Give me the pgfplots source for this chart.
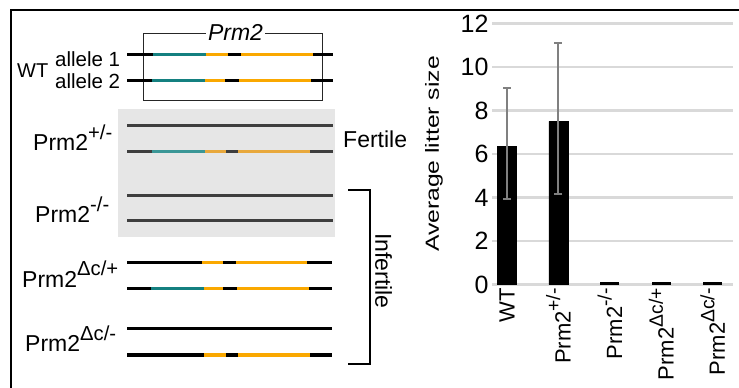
\documentclass[border=0pt]{standalone}
\usepackage{pgfplots}
\pgfplotsset{compat=1.18}
\usepackage{graphicx}
\usepackage{fontspec}
\setmainfont{Liberation Sans}
\definecolor{teal1}{RGB}{20,128,128}
\definecolor{orange1}{RGB}{250,168,0}
\definecolor{tealg}{RGB}{58,150,150}
\definecolor{orangeg}{RGB}{232,168,60}
\definecolor{darkg}{RGB}{62,62,62}
\definecolor{boxg}{RGB}{230,230,230}
\definecolor{gridg}{RGB}{217,217,217}
\definecolor{errg}{RGB}{128,128,128}
\newcommand\sups[1]{\raisebox{0.48em}{\scalebox{0.88}{#1}}}
\newcommand\fs[1]{\fontsize{#1}{#1}\selectfont}
\newcommand\seg[4]{\draw[line width=3.2pt,#1] (#2,#4) -- (#3,#4);}
\begin{document}
\begin{tikzpicture}
\begin{scope}[x=1pt,y=-1pt]
% frame
\draw[line width=2.4pt] (11,388) -- (11,10) -- (739,10);
% gene box
\draw[line width=0.9pt, black!85] (143,33) rectangle (322,100);
\node[anchor=base, fill=white, inner xsep=2pt, inner ysep=1pt, font=\fs{23}\itshape] at (235.5,40) {Prm2};
% WT allele 1
\seg{black}{127}{153}{54.5}
\seg{teal1}{153}{206}{54.5}
\seg{orange1}{206}{228}{54.5}
\seg{black}{228}{241}{54.5}
\seg{orange1}{241}{313}{54.5}
\seg{black}{313}{333}{54.5}
% WT allele 2
\seg{black}{127}{152}{80.7}
\seg{teal1}{152}{205}{80.7}
\seg{orange1}{205}{225}{80.7}
\seg{black}{225}{239}{80.7}
\seg{orange1}{239}{311}{80.7}
\seg{black}{311}{333}{80.7}
% grey box
\fill[boxg] (118,109) rectangle (335,237);
% +/-
\seg{darkg}{127}{333}{125.7}
\seg{darkg}{127}{152}{151.7}
\seg{tealg}{152}{205}{151.7}
\seg{orangeg}{205}{226}{151.7}
\seg{darkg}{226}{238}{151.7}
\seg{orangeg}{238}{310}{151.7}
\seg{darkg}{310}{333}{151.7}
% -/-
\seg{darkg}{127}{333}{195.7}
\seg{darkg}{127}{333}{220.7}
% dc/+
\seg{black}{127}{202}{262.7}
\seg{orange1}{202}{223}{262.7}
\seg{black}{223}{236}{262.7}
\seg{orange1}{236}{307}{262.7}
\seg{black}{307}{332}{262.7}
\seg{black}{127}{151}{288.3}
\seg{teal1}{151}{204}{288.3}
\seg{orange1}{204}{223}{288.3}
\seg{black}{223}{237}{288.3}
\seg{orange1}{237}{309}{288.3}
\seg{black}{309}{332}{288.3}
% dc/-
\seg{black}{127}{332}{328.3}
\seg{black}{127}{204}{355}
\seg{orange1}{204}{226}{355}
\seg{black}{226}{238}{355}
\seg{orange1}{238}{310}{355}
\seg{black}{310}{332}{355}
% bracket
\draw[line width=2.6pt] (348,190) -- (370,190) -- (370,364) -- (348,364);
% labels
\node[anchor=base west, inner sep=0pt, font=\fs{20}] at (17,77) {WT};
\node[anchor=base west, inner sep=0pt, font=\fs{20.5}] at (55,66) {allele 1};
\node[anchor=base west, inner sep=0pt, font=\fs{20.5}] at (55,88) {allele 2};
\node[anchor=base west, inner sep=0pt, font=\fs{23}] at (33,150.5) {Prm2\sups{+/-}};
\node[anchor=base west, inner sep=0pt, font=\fs{23}] at (35,222.7) {Prm2\sups{-/-}};
\node[anchor=base west, inner sep=0pt, font=\fs{23}] at (22,287) {Prm2\sups{Δc/+}};
\node[anchor=base west, inner sep=0pt, font=\fs{23}] at (25,351.7) {Prm2\sups{Δc/-}};
\node[anchor=base west, inner sep=0pt, font=\fs{23}] at (343,147) {Fertile};
\node[rotate=-90, anchor=center, inner sep=0pt, font=\fs{23}] at (383.5,271) {Infertile};
\end{scope}
\begin{axis}[
  at={(492pt,-284.7pt)}, anchor=south west,
  scale only axis, width=241pt, height=261.4pt,
  xmin=-0.292, xmax=4.397, ymin=0, ymax=12,
  clip=false,
  ytick={0,2,...,12}, xtick={0,1,2,3,4},
  xticklabels={WT, Prm2\sups{+/-}, Prm2\sups{-/-}, Prm2\sups{Δc/+}, Prm2\sups{Δc/-}},
  axis line style={draw=none}, major tick length=0pt,
  ymajorgrids, grid style={gridg, line width=2.5pt},
  /pgf/number format/assume math mode=true,
  yticklabel style={font=\fs{25}},
  xticklabel style={font=\fs{22}, rotate=90, anchor=east},
  ylabel={Average litter size},
  every axis y label/.style={at={(axis description cs:-0.2407,0.5)}, rotate=90, xscale=1.3, anchor=center, font=\fs{19}},
  ybar, bar width=19pt,
]
\addplot[ybar, bar shift=0pt, fill=black, draw=black, line width=0.5pt,
  error bars/.cd, y dir=both, y explicit,
  error bar style={errg, line width=2pt},
  error mark=-,
  error mark options={errg, line width=2pt, mark size=4pt, rotate=90}]
  coordinates {(0,6.34) += (0,2.71) -= (0,2.39) (1,7.50) += (0,3.61) -= (0,3.35)};
\addplot[only marks, mark=-, mark size=9.5pt, mark options={black, line width=3pt, yshift=1.5pt}]
  coordinates {(2,0) (3,0) (4,0)};
\end{axis}
\pgfresetboundingbox
\useasboundingbox (0pt,0pt) rectangle (739pt,-388pt);
\end{tikzpicture}
\end{document}
